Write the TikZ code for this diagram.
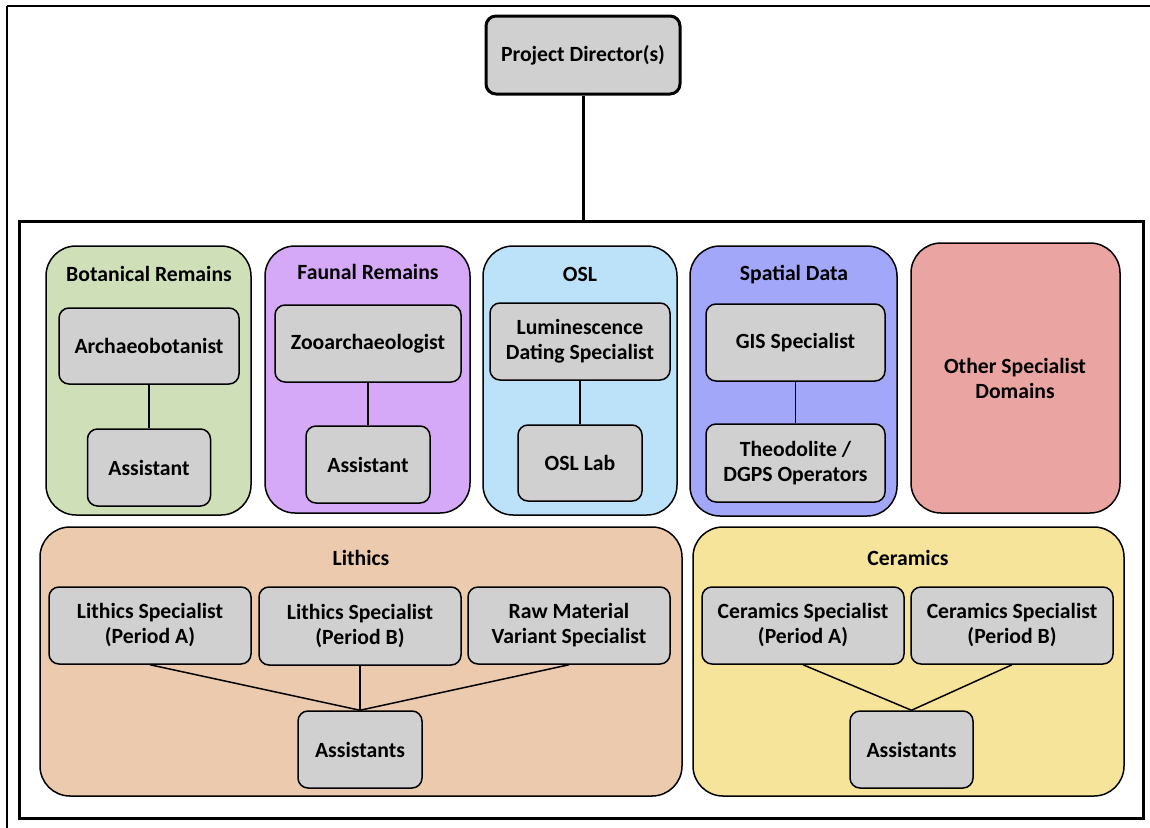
\documentclass[tikz,border=0pt]{standalone}
\usepackage{fontspec}
\setmainfont{Carlito}
\definecolor{boxgray}{HTML}{D0D0D0}
\definecolor{cgreen}{HTML}{CFDFB7}
\definecolor{cpurple}{HTML}{D5A9F7}
\definecolor{cblue}{HTML}{BBE2F9}
\definecolor{cviolet}{HTML}{A3A7FA}
\definecolor{cred}{HTML}{EAA4A2}
\definecolor{corange}{HTML}{ECCAAD}
\definecolor{cyellow}{HTML}{F6E49B}
\begin{document}
\begin{tikzpicture}[x=1pt,y=-1pt,
  every node/.style={font=\fontsize{21.7}{25}\selectfont\bfseries, align=center, inner sep=0pt},
  role/.style={draw=black, line width=1.5pt, fill=boxgray, rounded corners=10pt},
  group/.style={draw=black, line width=1.5pt, rounded corners=30pt},
  link/.style={draw=black, line width=1.5pt}]
\useasboundingbox (0,0) rectangle (1150,827);
\draw[line width=2.5pt] (7,6) -- (1160,6);
\draw[line width=2.5pt] (7,6) -- (7,840);
% director
\node[role, line width=3pt, minimum width=194pt, minimum height=78pt] (pd) at (583,55) {Project Director(s)};
\node[draw=black, line width=3pt, minimum width=1124pt, minimum height=597pt] (frame) at (581,519.5) {};
\draw[line width=3pt] (pd.south) -- (pd.south |- frame.north);
% groups
\node[group, fill=cgreen, minimum width=205pt, minimum height=269pt] (gbot) at (148.5,380.5) {};
\node[group, fill=cpurple, minimum width=205pt, minimum height=267pt] (gfau) at (367.5,379.5) {};
\node[group, fill=cblue, minimum width=194pt, minimum height=269pt] (gosl) at (580,380.5) {};
\node[group, fill=cviolet, minimum width=207pt, minimum height=270pt] (gspa) at (793.5,381) {};
\node[group, fill=cred, minimum width=209pt, minimum height=270pt] (goth) at (1015.5,378) {};
\node[group, fill=corange, minimum width=642pt, minimum height=269pt] (glit) at (361,661.5) {};
\node[group, fill=cyellow, minimum width=431pt, minimum height=269pt] (gcer) at (908.5,661.5) {};
% titles
\node (tbot) at (149,274) {Botanical Remains};
\node (tfau) at (368,272) {Faunal Remains};
\node (tosl) at (580,274) {OSL};
\node (tspa) at (794,275) {Spatial Data};
\node (toth) at (1015,378) {Other Specialist\\Domains};
\node (tlit) at (361,558) {Lithics};
\node (tcer) at (908,558) {Ceramics};
% botanical
\node[role, minimum width=180pt, minimum height=76pt] (arch) at (149,346) {Archaeobotanist};
\node[role, minimum width=123pt, minimum height=77pt] (bass) at (149,467.5) {Assistant};
\draw[link] (arch) -- (bass);
% faunal
\node[role, minimum width=186pt, minimum height=77pt] (zoo) at (368,343.5) {Zooarchaeologist};
\node[role, minimum width=124pt, minimum height=77pt] (fass) at (368,464.5) {Assistant};
\draw[link] (zoo) -- (fass);
% osl
\node[role, minimum width=180pt, minimum height=77pt] (lum) at (580,341.5) {Luminescence\\Dating Specialist};
\node[role, minimum width=124pt, minimum height=76pt] (lab) at (580,463) {OSL Lab};
\draw[link] (lum) -- (lab);
% spatial
\node[role, minimum width=179pt, minimum height=77pt] (gis) at (795.5,342.5) {GIS Specialist};
\node[role, minimum width=179pt, minimum height=78pt] (theo) at (795.5,463) {Theodolite /\\DGPS Operators};
\draw[link] (gis) -- (theo);
% lithics
\node[role, minimum width=202pt, minimum height=77pt] (lia) at (150,625.5) {Lithics Specialist\\(Period A)};
\node[role, minimum width=202pt, minimum height=78pt] (lib) at (360,626) {Lithics Specialist\\(Period B)};
\node[role, minimum width=202pt, minimum height=77pt] (raw) at (569,625.5) {Raw Material\\Variant Specialist};
\node[role, minimum width=124pt, minimum height=77pt] (lass) at (360,749.5) {Assistants};
\draw[link] (lia.south) -- (lass.north);
\draw[link] (lib.south) -- (lass.north);
\draw[link] (raw.south) -- (lass.north);
% ceramics
\node[role, minimum width=202pt, minimum height=77pt] (cea) at (803,625.5) {Ceramics Specialist\\(Period A)};
\node[role, minimum width=202pt, minimum height=77pt] (ceb) at (1012,625.5) {Ceramics Specialist\\(Period B)};
\node[role, minimum width=123pt, minimum height=77pt] (cass) at (911.5,749.5) {Assistants};
\draw[link] (cea.south) -- (cass.north);
\draw[link] (ceb.south) -- (cass.north);
\end{tikzpicture}
\end{document}
